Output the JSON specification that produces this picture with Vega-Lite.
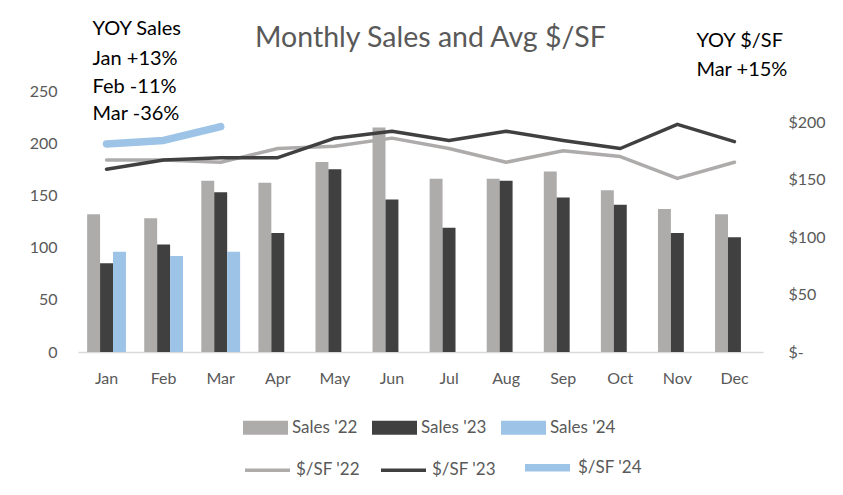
{
  "$schema": "https://vega.github.io/schema/vega-lite/v6.json",
  "width": 685,
  "height": 261,
  "autosize": {"type": "none"},
  "padding": {"left": 78, "top": 91, "right": 80, "bottom": 143},
  "background": "white",
  "config": {
    "font": "Lato",
    "view": {"stroke": null},
    "axis": {"labelFont": "Lato", "labelColor": "#595959", "labelFontSize": 16, "grid": false, "ticks": false, "title": null},
    "legend": {"labelFont": "Lato", "labelColor": "#595959", "labelFontSize": 17}
  },
  "title": {"text": "Monthly Sales and Avg $/SF", "fontSize": 28.5, "font": "Lato", "fontWeight": "normal", "color": "#595959", "anchor": "middle", "baseline": "bottom", "offset": -62, "dx": 10},
  "datasets": {
    "sales": [
      {"month": "Jan", "series": "Sales '22", "sales": 132},
      {"month": "Jan", "series": "Sales '23", "sales": 85},
      {"month": "Jan", "series": "Sales '24", "sales": 96},
      {"month": "Feb", "series": "Sales '22", "sales": 128},
      {"month": "Feb", "series": "Sales '23", "sales": 103},
      {"month": "Feb", "series": "Sales '24", "sales": 92},
      {"month": "Mar", "series": "Sales '22", "sales": 164},
      {"month": "Mar", "series": "Sales '23", "sales": 153},
      {"month": "Mar", "series": "Sales '24", "sales": 96},
      {"month": "Apr", "series": "Sales '22", "sales": 162},
      {"month": "Apr", "series": "Sales '23", "sales": 114},
      {"month": "May", "series": "Sales '22", "sales": 182},
      {"month": "May", "series": "Sales '23", "sales": 175},
      {"month": "Jun", "series": "Sales '22", "sales": 215},
      {"month": "Jun", "series": "Sales '23", "sales": 146},
      {"month": "Jul", "series": "Sales '22", "sales": 166},
      {"month": "Jul", "series": "Sales '23", "sales": 119},
      {"month": "Aug", "series": "Sales '22", "sales": 166},
      {"month": "Aug", "series": "Sales '23", "sales": 164},
      {"month": "Sep", "series": "Sales '22", "sales": 173},
      {"month": "Sep", "series": "Sales '23", "sales": 148},
      {"month": "Oct", "series": "Sales '22", "sales": 155},
      {"month": "Oct", "series": "Sales '23", "sales": 141},
      {"month": "Nov", "series": "Sales '22", "sales": 137},
      {"month": "Nov", "series": "Sales '23", "sales": 114},
      {"month": "Dec", "series": "Sales '22", "sales": 132},
      {"month": "Dec", "series": "Sales '23", "sales": 110}
    ],
    "psf": [
      {"month": "Jan", "series": "$/SF '22", "psf": 167},
      {"month": "Feb", "series": "$/SF '22", "psf": 167},
      {"month": "Mar", "series": "$/SF '22", "psf": 165},
      {"month": "Apr", "series": "$/SF '22", "psf": 177},
      {"month": "May", "series": "$/SF '22", "psf": 179},
      {"month": "Jun", "series": "$/SF '22", "psf": 186},
      {"month": "Jul", "series": "$/SF '22", "psf": 177},
      {"month": "Aug", "series": "$/SF '22", "psf": 165},
      {"month": "Sep", "series": "$/SF '22", "psf": 175},
      {"month": "Oct", "series": "$/SF '22", "psf": 170},
      {"month": "Nov", "series": "$/SF '22", "psf": 151},
      {"month": "Dec", "series": "$/SF '22", "psf": 165},
      {"month": "Jan", "series": "$/SF '23", "psf": 159},
      {"month": "Feb", "series": "$/SF '23", "psf": 167},
      {"month": "Mar", "series": "$/SF '23", "psf": 169},
      {"month": "Apr", "series": "$/SF '23", "psf": 169},
      {"month": "May", "series": "$/SF '23", "psf": 186},
      {"month": "Jun", "series": "$/SF '23", "psf": 192},
      {"month": "Jul", "series": "$/SF '23", "psf": 184},
      {"month": "Aug", "series": "$/SF '23", "psf": 192},
      {"month": "Sep", "series": "$/SF '23", "psf": 184},
      {"month": "Oct", "series": "$/SF '23", "psf": 177},
      {"month": "Nov", "series": "$/SF '23", "psf": 198},
      {"month": "Dec", "series": "$/SF '23", "psf": 183},
      {"month": "Jan", "series": "$/SF '24", "psf": 181},
      {"month": "Feb", "series": "$/SF '24", "psf": 184},
      {"month": "Mar", "series": "$/SF '24", "psf": 196}
    ],
    "notes": [
      {"block": "left", "month": "Jan", "v": 309, "text": "YOY Sales"},
      {"block": "left", "month": "Jan", "v": 281, "text": "Jan +13%"},
      {"block": "left", "month": "Jan", "v": 254, "text": "Feb -11%"},
      {"block": "left", "month": "Jan", "v": 228, "text": "Mar -36%"},
      {"block": "right", "month": "Nov", "v": 298, "text": "YOY $/SF"},
      {"block": "right", "month": "Nov", "v": 270, "text": "Mar +15%"}
    ]
  },
  "encoding": {
    "x": {
      "field": "month", "type": "nominal",
      "sort": ["Jan","Feb","Mar","Apr","May","Jun","Jul","Aug","Sep","Oct","Nov","Dec"],
      "scale": {"domain": ["Jan","Feb","Mar","Apr","May","Jun","Jul","Aug","Sep","Oct","Nov","Dec"], "paddingInner": 0.32, "paddingOuter": 0.16},
      "axis": {"labelAngle": 0, "domainColor": "#D9D9D9", "domainWidth": 1.5, "labelPadding": 18}
    }
  },
  "layer": [
    {
      "data": {"name": "sales"},
      "mark": {"type": "bar"},
      "encoding": {
        "xOffset": {"field": "series", "type": "nominal", "scale": {"domain": ["Sales '22", "Sales '23", "Sales '24"]}},
        "y": {
          "field": "sales", "type": "quantitative",
          "scale": {"domain": [0, 250], "nice": false},
          "axis": {"values": [0, 50, 100, 150, 200, 250], "domain": false, "labelPadding": 21}
        },
        "fill": {
          "field": "series", "type": "nominal",
          "scale": {"domain": ["Sales '22", "Sales '23", "Sales '24"], "range": ["#AEABAB", "#404040", "#9DC3E6"]},
          "legend": {"orient": "none", "legendX": 165, "legendY": 314, "direction": "horizontal", "title": null, "symbolType": "M-1,-0.31H1V0.31H-1Z", "symbolSize": 2025, "symbolStrokeWidth": 0, "symbolOpacity": 1, "labelOffset": 4, "columnPadding": 14}
        }
      }
    },
    {
      "data": {"name": "psf"},
      "mark": {"type": "line", "strokeCap": "round", "strokeJoin": "round"},
      "encoding": {
        "y": {
          "field": "psf", "type": "quantitative",
          "scale": {"domain": [0, 227], "nice": false},
          "axis": {"orient": "right", "values": [0, 50, 100, 150, 200], "domain": false, "labelPadding": 25, "labelExpr": "datum.value == 0 ? '$-' : '$' + datum.value"}
        },
        "stroke": {
          "field": "series", "type": "nominal",
          "scale": {"domain": ["$/SF '22", "$/SF '23", "$/SF '24"], "range": ["#AEABAB", "#404040", "#9DC3E6"]},
          "legend": {"orient": "none", "legendX": 165, "legendY": 350, "direction": "horizontal", "title": null, "symbolType": "stroke", "symbolSize": 2025, "labelOffset": 4, "columnPadding": 14}
        },
        "strokeWidth": {
          "field": "series", "type": "nominal",
          "scale": {"type": "ordinal", "domain": ["$/SF '22", "$/SF '23", "$/SF '24"], "range": [3.5, 3.5, 7.5]},
          "legend": {"orient": "none", "legendX": 165, "legendY": 350, "direction": "horizontal", "title": null, "symbolType": "stroke", "symbolSize": 2025, "labelOffset": 4, "columnPadding": 14}
        }
      }
    },
    {
      "data": {"name": "notes"},
      "transform": [{"filter": "datum.block == 'left'"}],
      "mark": {"type": "text", "align": "left", "baseline": "middle", "dx": -14, "fontSize": 20, "font": "Lato", "color": "#000000", "clip": false},
      "encoding": {
        "y": {"field": "v", "type": "quantitative", "scale": {"domain": [0, 250], "nice": false}, "axis": null},
        "text": {"field": "text"}
      }
    },
    {
      "data": {"name": "notes"},
      "transform": [{"filter": "datum.block == 'right'"}],
      "mark": {"type": "text", "align": "left", "baseline": "middle", "dx": 19, "fontSize": 20, "font": "Lato", "color": "#000000", "clip": false},
      "encoding": {
        "y": {"field": "v", "type": "quantitative", "scale": {"domain": [0, 250], "nice": false}, "axis": null},
        "text": {"field": "text"}
      }
    }
  ],
  "resolve": {"scale": {"y": "independent"}}
}
